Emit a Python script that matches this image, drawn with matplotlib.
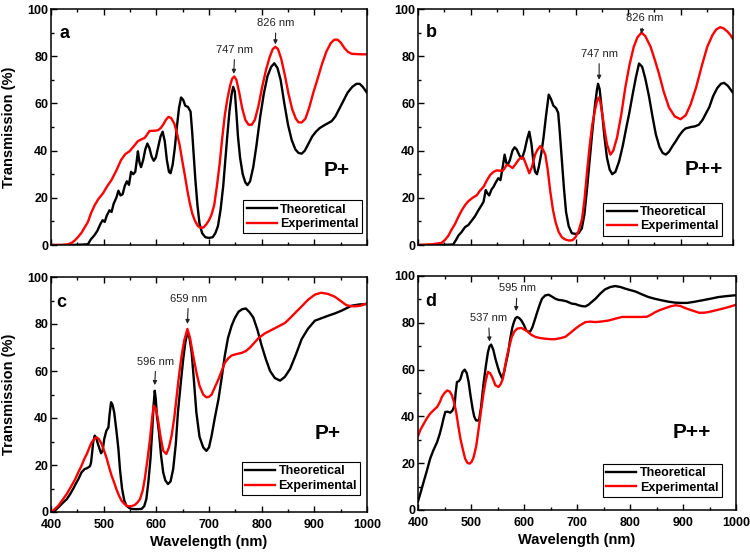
import matplotlib
matplotlib.use('Agg')
import matplotlib.pyplot as plt
from matplotlib.ticker import MultipleLocator

plt.rcParams['font.family'] = ['Liberation Sans', 'DejaVu Sans']

# ---------------- data ----------------
series_labels = ['Theoretical', 'Experimental']
panel_letters = ['a', 'b', 'c', 'd']
sample_labels = ['P+', 'P++', 'P+', 'P++']

wl_a_theo = [400, 440, 470, 476, 482, 488, 494, 498, 502, 506, 511, 515, 519, 524, 528, 532, 536, 540, 544, 548,
             552, 556, 560, 563, 565, 568, 571, 575, 579, 583, 587, 591, 595, 599, 604, 608, 612, 616, 620, 624,
             627, 631, 635, 639, 643, 647, 651, 655, 660, 665, 668, 671, 674, 678, 682, 687, 693, 700, 707, 712,
             717, 722, 727, 731, 735, 739, 743, 746, 749, 752, 755, 759, 764, 769, 773, 778, 784, 790, 797, 804,
             811, 818, 824, 830, 836, 843, 850, 857, 864, 870, 876, 882, 889, 896, 903, 910, 917, 925, 933, 940,
             947, 955, 963, 972, 980, 986, 992, 1000]
tr_a_theo = [0, 0, 0.3, 2.5, 4, 6, 9, 10.5, 9.8, 12.5, 14.7, 14, 17.5, 20, 23, 21, 21.5, 25, 27, 25.5,
             31, 30, 31, 36, 39.7, 35, 33, 36, 40.5, 43, 41, 37.5, 35.7, 37, 42, 46, 48, 44, 36, 31,
             30.4, 34, 41, 50, 58, 62.5, 61.5, 59, 58.5, 56.5, 48, 38, 28, 17, 9, 5, 3.3, 3, 3.3, 5,
             8, 15, 25, 36, 47, 57, 64, 67, 65, 56, 46, 37, 30, 26.5, 25.4, 27, 33, 42, 54, 64,
             71.5, 75.5, 77, 75, 70, 60, 51, 44.5, 40.5, 39, 38.7, 40, 43, 46, 48, 49.5, 50.5, 51.5, 52.5, 54.5,
             57.5, 61, 64.5, 67, 68.3, 68.3, 67, 64.5]

wl_a_exp = [400, 420, 432, 440, 445, 451, 458, 464, 470, 476, 483, 490, 499, 507, 515, 524, 533, 541, 549, 557,
            565, 572, 578, 583, 587, 595, 603, 608, 613, 618, 623, 628, 634, 639, 644, 649, 654, 659, 663, 668,
            673, 679, 685, 690, 695, 700, 705, 710, 715, 720, 725, 730, 735, 740, 744, 748, 752, 757, 763, 769,
            775, 781, 787, 794, 801, 808, 815, 821, 826, 831, 837, 844, 851, 858, 865, 870, 876, 883, 890, 898,
            907, 915, 923, 931, 938, 944, 950, 957, 964, 971, 980, 990, 1000]
tr_a_exp = [0, 0, 0.3, 1, 1.9, 3.3, 5.2, 7.5, 9.7, 13.5, 16.9, 19.5, 22, 25, 27.6, 31.5, 36, 38.5, 39.7, 41.8,
            44, 44.8, 45.4, 47, 48.3, 48.4, 48.6, 49.5, 51, 53, 54.3, 53.8, 51.5, 47.5, 42.6, 36, 29.7, 23, 18.3, 13.5,
            10.4, 8, 7.2, 7.5, 8.8, 10.5, 13, 17, 25, 34, 45, 55, 62, 67.5, 70.5, 71.4, 70, 65, 58, 53,
            51, 50.9, 53, 59, 67, 74, 79.5, 83, 84, 83, 79, 72, 64, 57.5, 53.5, 52, 51.9, 53.5, 58, 64.5,
            71, 77, 82, 85.5, 87, 87, 85.8, 83.5, 81.8, 81, 80.9, 80.8, 80.8]

wl_b_theo = [400, 440, 467, 472, 477, 483, 489.7, 496, 502.5, 508, 515, 520, 524.8, 529, 532, 535.6, 540, 544, 548, 553,
             557, 561, 565, 568, 571, 575, 580, 584, 588, 593, 598, 603, 608, 612, 616, 620, 623, 626.6, 630, 635,
             639, 644, 649, 653, 658, 663, 667, 670, 674, 678, 682, 687, 693, 700, 706, 712, 717, 722, 727, 732,
             737, 741, 743, 746, 751, 755, 760, 765, 770, 776, 783, 790, 797, 802, 809, 815, 821, 827, 833, 840,
             847, 853, 860, 866, 872, 878, 885, 891, 898, 905, 910, 920, 928, 935, 942, 949, 955, 962, 970, 977,
             983, 990, 995, 1000]
tr_b_theo = [0, 0, 0.2, 2, 4, 5.5, 7.6, 8.5, 10.4, 12, 14.7, 16.5, 18.3, 23.3, 22, 21, 23.5, 24.7, 26.5, 28.3,
             27.5, 32.6, 38.3, 35, 34, 36, 40, 41.4, 40.5, 38, 36.6, 40, 45, 48, 43, 35, 31, 30, 33, 39,
             45.4, 55, 63.7, 62, 59, 58, 56, 48, 36, 24, 14, 8, 5, 4.7, 5, 7, 13, 24, 36, 48,
             59, 66, 68.3, 66, 55.4, 46, 36.9, 32, 30, 31, 35.4, 42, 50, 55.4, 64, 71, 76.9, 75.5, 70.5, 63,
             54, 46.9, 41.5, 39, 38.3, 39.5, 42, 44, 46.5, 48.5, 49.4, 50, 50.3, 51, 53, 56, 58.5, 63, 66.5, 68.3,
             68.7, 67.5, 66, 64.5]

wl_b_exp = [400, 426, 445, 452, 458, 464, 470.7, 477, 483.4, 490, 496, 504, 512, 518, 525, 531, 537.5, 544, 550, 556,
            561, 565, 569, 574, 580, 585, 591.6, 596, 601, 606, 612, 617, 623, 628, 633, 638, 642.5, 647, 652, 657,
            662, 668, 674, 680, 687, 694, 700, 706, 712.5, 717, 722, 727, 732, 737, 741, 744, 747, 751, 756, 760,
            766.5, 772, 779, 787, 795, 803, 811, 818, 825.8, 833, 843, 851, 859, 868, 878, 889, 900, 910, 919.5, 930,
            941.8, 951, 961, 968, 975.6, 982, 989.6, 995, 1000]
tr_b_exp = [0, 0.3, 0.9, 2.3, 4, 6.5, 9, 12, 14.7, 17, 18.6, 20, 21.1, 23, 24.7, 27.3, 29.7, 31, 31.6, 31.5,
            31.4, 32.5, 34, 33.6, 32.6, 34, 36.1, 37, 36.9, 34, 30.4, 33, 38.3, 40.5, 41.9, 40.5, 38.3, 32, 22.6, 15,
            9.7, 5.5, 3.3, 2.4, 1.9, 2, 3.3, 6, 11, 19, 31, 42, 51, 57, 61, 62.5, 61, 55.4, 48, 42.6,
            38.3, 40, 45.4, 55, 66.9, 76.5, 84, 88, 90, 88.5, 84, 78.5, 72.6, 65, 58.3, 54.5, 53.3, 55, 59.7, 67,
            76.9, 84, 89, 91.3, 92.3, 91.8, 90.4, 89, 87.3]

wl_c_theo = [400, 407, 414, 422, 430, 436, 442, 447, 452, 458, 464, 468, 471, 474, 476, 478, 480, 483, 486, 489,
             492, 495, 498, 501, 505, 509, 511, 514, 517, 520, 524, 528, 531, 535, 539, 543, 548, 553, 562, 572,
             577, 581, 585, 589, 592, 595, 597, 599, 601, 605, 609, 613, 617, 622, 627, 632, 637, 641, 646, 651,
             655, 659, 663, 667, 671, 676, 682, 689, 695, 700, 705, 711, 718, 724, 730, 736, 743, 749, 756, 763,
             770, 777, 784, 792, 800, 808, 816, 825, 835, 844, 854, 865, 876, 888, 901, 914, 926, 939, 952, 961,
             971, 985, 1000]
tr_c_theo = [0, 0.5, 2, 3.8, 5.5, 7.5, 9.8, 12, 14, 16.9, 18.3, 18.6, 19, 19.5, 21, 25, 29.6, 32.5, 31.5, 29,
             27, 25, 26, 31, 34.5, 36, 41, 46.7, 45.5, 42.4, 35, 26.8, 18, 9.8, 5, 2.7, 1.8, 1.3, 1.2, 1.3,
             2.5, 5.5, 13, 23, 34, 46, 51.6, 48, 41, 33.9, 24, 16.9, 13.5, 11.9, 13, 18.3, 29, 42.4, 54, 65,
             72, 76.5, 74, 68, 57, 42.4, 32, 27.5, 26, 27.5, 32.5, 40, 48, 57, 66.5, 74, 79.3, 82.5, 85.2, 86.3,
             86.6, 85, 82.8, 77.5, 70.8, 65, 60, 57, 55.9, 57.5, 60.9, 67, 73.6, 78, 81.4, 82.5, 83.5, 84.5, 85.7, 86.7,
             87.8, 88.3, 88.5]

wl_c_exp = [400, 405, 414, 422, 430, 438, 446, 452, 458, 463, 468, 473, 477, 482, 486.5, 491, 496, 501, 506, 511,
            515, 520, 524, 529, 534, 540, 546, 553, 559, 564, 569, 574, 578, 583, 588, 592, 595, 599, 603, 608,
            613, 619, 624, 629, 634, 638, 643, 648, 653, 659, 664, 670, 676, 682, 689, 695, 700, 705, 711, 718,
            724, 730, 737, 743, 752, 762, 770, 778, 786, 794, 806, 819, 832, 844, 854, 863, 876, 888, 901, 913,
            926, 939, 950, 961, 970, 977, 988, 1000]
tr_c_exp = [0, 0.8, 2.7, 5.2, 7.7, 10.8, 14, 17, 19.7, 22.5, 24.7, 27.5, 29.6, 31, 31.8, 31, 29, 26, 22.6, 18.5,
            15.5, 12.5, 9.8, 7, 4.8, 3.3, 2.4, 2.5, 3, 4, 5.5, 9, 14, 22, 31, 40, 45.2, 44, 39.6, 32,
            26.1, 24.7, 27.5, 32.5, 40, 48, 58, 66.5, 73, 77.9, 74, 66.5, 59.5, 53.7, 50, 48.8, 49, 50, 53, 56.5,
            60, 63.5, 65.5, 66.6, 67.2, 67.7, 68.5, 70, 72, 74, 76, 77.5, 79, 80.4, 82.5, 84.6, 87.5, 90.3, 92.5, 93.3,
            92.8, 91.6, 89.8, 88, 87.6, 87.5, 87.8, 88.8]

wl_d_theo = [400, 405, 410.6, 417, 423, 429, 436, 441, 445, 448, 451.5, 456, 461, 465, 469, 471, 473.5, 477, 480, 484,
             488, 492, 495.5, 499, 503, 506, 509.4, 513, 515.6, 519, 524, 528, 532, 535, 538, 542, 546, 550, 553.4, 558.4,
             562, 565, 570, 574, 578, 581, 584, 587, 591, 595, 600, 604, 610, 613, 616, 620, 625, 630, 634, 640,
             646.5, 652, 659, 665, 672, 680, 690, 697, 703, 710, 716, 722, 735, 744, 753, 763, 772, 782, 791, 800,
             810, 822, 835, 848, 860, 873, 886, 897, 908, 922, 936, 952, 967, 982, 1000]
tr_d_theo = [3.7, 7.5, 12, 17, 22, 25.5, 29, 32.5, 36, 39, 41.9, 42, 41.6, 42.5, 44.7, 50, 54.7, 55, 56, 59,
             60, 58.5, 54.7, 49, 43.3, 40, 38.3, 38.2, 39, 44, 54.7, 61.5, 67.5, 70, 70.7, 68.5, 64.7, 61.5, 59, 56.4,
             58.5, 61.8, 67, 73.2, 78, 80.3, 82, 82.5, 82, 81, 79, 76.8, 76, 76.8, 78.2, 81, 84.6, 88, 90.3, 91.7,
             92, 91.3, 90.3, 89.8, 89.6, 89.2, 88.2, 88, 87.5, 87.1, 87, 87.8, 90.3, 92.5, 94.3, 95.3, 95.7, 95.3, 94.6, 94,
             93.4, 92.2, 91, 90.2, 89.6, 89, 88.6, 88.5, 88.5, 89, 89.6, 90.3, 91, 91.4, 91.8]

wl_d_exp = [400, 405, 411, 417, 423, 430, 436, 441, 445, 450, 455, 460, 464, 468, 472, 476, 480, 485, 489, 493,
            497, 501, 505, 510, 514.5, 519, 524, 528, 532, 536, 540, 546, 552, 556, 560, 564, 568, 573, 577, 582,
            587, 595, 600, 606, 613, 621, 630, 640, 650, 659, 668, 678, 688, 697, 706, 716, 725, 735, 748, 760,
            773, 785, 798, 810, 822, 832, 840, 848, 857, 867, 876, 886, 895, 904, 917, 930, 940, 948, 961, 974,
            987, 1000]
tr_d_exp = [31.6, 34.5, 36.9, 39.3, 41.2, 42.8, 44, 46, 48.3, 50, 51.1, 50.6, 49, 46, 41.9, 36, 30.5, 25.5, 21.9, 20.2,
            19.8, 20.5, 22.6, 27.5, 34.8, 42.5, 50.4, 55.5, 59, 58.5, 56.8, 53.3, 52.6, 53.8, 56, 61, 66, 70.5, 74, 76.3,
            77.5, 77.8, 77.2, 76.4, 75, 74, 73.5, 73.2, 73, 73, 73.4, 74, 75.8, 77.5, 79, 80.3, 80.5, 80.3, 80.6, 81,
            81.8, 82.5, 82.5, 82.5, 82.5, 82.6, 83.5, 84.6, 85.5, 86.3, 87, 87.5, 87.2, 86.3, 85.3, 84.3, 84.3, 84.6, 85.3, 86,
            86.8, 87.7]

# peak annotations: (label, arrow wavelength, arrow tip value)
peaks_a = [('747 nm', 747, 72.5), ('826 nm', 826, 85)]
peaks_b = [('747 nm', 745, 70), ('826 nm', 825, 89.5)]
peaks_c = [('596 nm', 597, 54), ('659 nm', 659, 80)]
peaks_d = [('537 nm', 535, 72), ('595 nm', 585, 85)]
# label centre positions (wavelength, value)
peak_text_a = [(749, 82.7), (827, 94)]
peak_text_b = [(745, 81), (831, 96)]
peak_text_c = [(599, 64), (661, 90.8)]
peak_text_d = [(533, 82), (587, 94.7)]

# ---------------- figure ----------------
fig = plt.figure(figsize=(7.5, 5.58), dpi=100)

boxes = [
    [51 / 750, 1 - 245 / 558, 316 / 750, 236 / 558],
    [418 / 750, 1 - 245 / 558, 315 / 750, 236 / 558],
    [51 / 750, 1 - 512 / 558, 316 / 750, 235 / 558],
    [418 / 750, 1 - 510 / 558, 318 / 750, 234 / 558],
]
panels = [
    (wl_a_theo, tr_a_theo, wl_a_exp, tr_a_exp, peaks_a, peak_text_a),
    (wl_b_theo, tr_b_theo, wl_b_exp, tr_b_exp, peaks_b, peak_text_b),
    (wl_c_theo, tr_c_theo, wl_c_exp, tr_c_exp, peaks_c, peak_text_c),
    (wl_d_theo, tr_d_theo, wl_d_exp, tr_d_exp, peaks_d, peak_text_d),
]
letter_pos = [(0.043, 0.895), (0.041, 0.9), (0.033, 0.89), (0.041, 0.89)]
sample_pos = [(0.905, 0.315), (0.906, 0.32), (0.877, 0.335), (0.86, 0.33)]
legend_anchor = [(0.984, 0.05), (0.965, 0.04), (0.978, 0.072), (0.955, 0.057)]

for i, (box, (wt, tt, we, te, peaks, ptext)) in enumerate(zip(boxes, panels)):
    ax = fig.add_axes(box)
    ax.plot(wt, tt, color='black', lw=1.7, label=series_labels[0])
    ax.plot(we, te, color='#ff0000', lw=1.7, label=series_labels[1])
    ax.set_xlim(400, 1000)
    ax.set_ylim(0, 100)
    ax.xaxis.set_major_locator(MultipleLocator(100))
    ax.xaxis.set_minor_locator(MultipleLocator(50))
    ax.yaxis.set_major_locator(MultipleLocator(20))
    ax.yaxis.set_minor_locator(MultipleLocator(10))
    ax.tick_params(which='both', direction='in', top=True, right=False, width=1.0)
    ax.tick_params(which='major', length=4.5, labelsize=9)
    ax.tick_params(axis='y', which='major', pad=2)
    ax.tick_params(axis='x', which='major', pad=5)
    ax.tick_params(which='minor', length=2.5)
    for lbl in ax.get_xticklabels() + ax.get_yticklabels():
        lbl.set_fontweight('bold')
    for sp in ax.spines.values():
        sp.set_linewidth(1.1)
    if i < 2:
        ax.tick_params(labelbottom=False)
    else:
        ax.set_xlabel('Wavelength (nm)', fontsize=10.5, fontweight='bold', labelpad=3)
    if i % 2 == 0:
        ax.set_ylabel('Transmission (%)', fontsize=10.5, fontweight='bold', labelpad=8)

    ax.text(*letter_pos[i], panel_letters[i], transform=ax.transAxes, fontsize=13,
            fontweight='bold', ha='center', va='center')
    ax.text(*sample_pos[i], sample_labels[i], transform=ax.transAxes, fontsize=15,
            fontweight='bold', ha='center', va='center')

    for (label, wl, val), (tx, ty) in zip(peaks, ptext):
        ax.annotate(label, xy=(wl, val), xytext=(tx, ty),
                    ha='center', va='center', fontsize=8, color='#222222',
                    arrowprops=dict(arrowstyle='-|>', lw=0.8, color='#222222',
                                    mutation_scale=6, shrinkA=1.5, shrinkB=0))

    leg = ax.legend(loc='lower right', bbox_to_anchor=legend_anchor[i], borderaxespad=0,
                    fancybox=False, edgecolor='black', framealpha=1, handlelength=2.4,
                    handletextpad=0.3, borderpad=0.25, labelspacing=0.2,
                    prop={'weight': 'bold', 'size': 9})
    leg.get_frame().set_linewidth(0.8)

fig.savefig('out.png', dpi=100)
